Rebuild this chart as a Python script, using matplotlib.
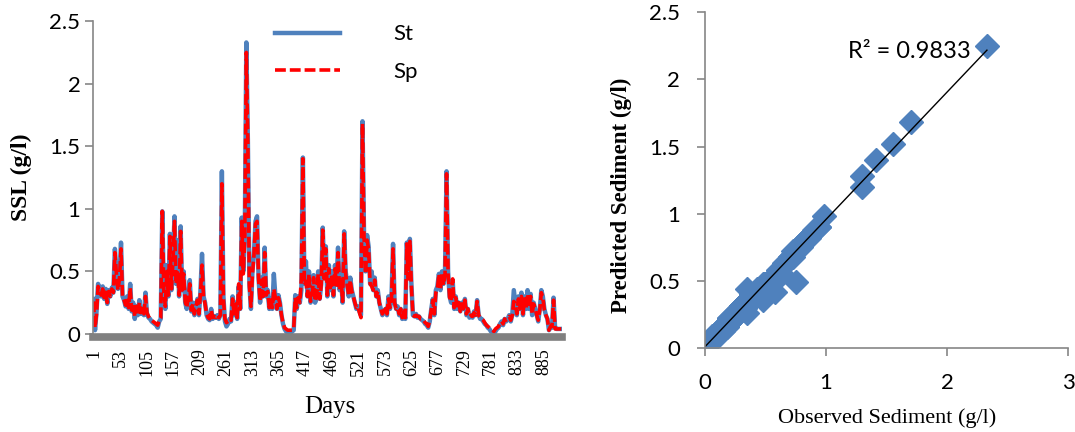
import numpy as np
import matplotlib
matplotlib.use("Agg")
import matplotlib.pyplot as plt

# observed (St) and predicted (Sp) sediment, read every 3rd day off the chart
day_step = 3
st = [0.28, 0.03, 0.18, 0.40, 0.36, 0.30, 0.38, 0.28, 0.36, 0.24,
      0.35, 0.30, 0.37, 0.33, 0.68, 0.50, 0.36, 0.45, 0.73, 0.30,
      0.27, 0.22, 0.30, 0.20, 0.40, 0.18, 0.25, 0.12, 0.22, 0.15,
      0.27, 0.16, 0.20, 0.15, 0.33, 0.16, 0.13, 0.12, 0.10, 0.09,
      0.08, 0.07, 0.05, 0.10, 0.12, 0.98, 0.35, 0.20, 0.55, 0.30,
      0.80, 0.35, 0.60, 0.94, 0.40, 0.75, 0.30, 0.86, 0.35, 0.50,
      0.25, 0.20, 0.30, 0.43, 0.18, 0.25, 0.15, 0.22, 0.28, 0.15,
      0.35, 0.64, 0.30, 0.25, 0.15, 0.12, 0.11, 0.20, 0.12, 0.14,
      0.13, 0.15, 0.12, 0.15, 1.30, 0.30, 0.10, 0.06, 0.08, 0.12,
      0.10, 0.30, 0.15, 0.25, 0.12, 0.38, 0.20, 0.93, 0.50, 0.80,
      2.33, 1.55, 0.40, 0.20, 0.50, 0.65, 0.90, 0.94, 0.45, 0.25,
      0.45, 0.30, 0.69, 0.30, 0.35, 0.20, 0.28, 0.20, 0.48, 0.30,
      0.20, 0.31, 0.25, 0.15, 0.08, 0.04, 0.02, 0.01, 0.01, 0.01,
      0.02, 0.03, 0.31, 0.20, 0.30, 0.25, 0.35, 1.41, 0.40, 0.58,
      0.30, 0.50, 0.25, 0.30, 0.47, 0.25, 0.30, 0.50, 0.28, 0.40,
      0.85, 0.45, 0.70, 0.30, 0.55, 0.35, 0.50, 0.30, 0.55, 0.40,
      0.69, 0.35, 0.45, 0.25, 0.82, 0.50, 0.40, 0.30, 0.45, 0.35,
      0.30, 0.25, 0.20, 0.22, 0.18, 0.15, 1.70, 0.80, 0.50, 0.79,
      0.70, 0.40, 0.50, 0.35, 0.45, 0.30, 0.35, 0.25, 0.20, 0.15,
      0.18, 0.20, 0.15, 0.30, 0.20, 0.30, 0.72, 0.25, 0.20, 0.22,
      0.15, 0.20, 0.12, 0.18, 0.12, 0.73, 0.45, 0.76, 0.40, 0.15,
      0.14, 0.16, 0.13, 0.14, 0.12, 0.11, 0.10, 0.08, 0.07, 0.05,
      0.10, 0.20, 0.28, 0.15, 0.35, 0.38, 0.48, 0.35, 0.50, 0.40,
      0.50, 1.30, 0.50, 0.30, 0.25, 0.43, 0.20, 0.30, 0.20, 0.25,
      0.18, 0.25, 0.20, 0.28, 0.15, 0.20, 0.13, 0.15, 0.13, 0.18,
      0.15, 0.27, 0.15, 0.12, 0.12, 0.10, 0.08, 0.07, 0.05, 0.04,
      0.02, 0.01, 0.00, 0.02, 0.04, 0.05, 0.08, 0.10, 0.07, 0.12,
      0.10, 0.12, 0.15, 0.10, 0.15, 0.35, 0.25, 0.15, 0.30, 0.20,
      0.33, 0.15, 0.30, 0.20, 0.35, 0.20, 0.32, 0.15, 0.25, 0.20,
      0.15, 0.10, 0.20, 0.35, 0.30, 0.20, 0.15, 0.12, 0.03, 0.05,
      0.05, 0.29, 0.05, 0.04, 0.04, 0.04, 0.04]
sp = [0.26, 0.05, 0.16, 0.38, 0.35, 0.31, 0.36, 0.29, 0.35, 0.25,
      0.34, 0.30, 0.36, 0.33, 0.65, 0.48, 0.35, 0.44, 0.68, 0.30,
      0.27, 0.23, 0.29, 0.21, 0.37, 0.19, 0.24, 0.14, 0.22, 0.16,
      0.25, 0.17, 0.20, 0.16, 0.30, 0.17, 0.14, 0.12, 0.11, 0.10,
      0.09, 0.08, 0.07, 0.11, 0.13, 0.98, 0.34, 0.22, 0.50, 0.31,
      0.78, 0.36, 0.58, 0.90, 0.40, 0.49, 0.31, 0.82, 0.35, 0.48,
      0.26, 0.21, 0.29, 0.40, 0.19, 0.24, 0.16, 0.22, 0.27, 0.16,
      0.33, 0.55, 0.30, 0.24, 0.16, 0.13, 0.12, 0.19, 0.13, 0.14,
      0.13, 0.15, 0.13, 0.15, 1.20, 0.28, 0.12, 0.09, 0.10, 0.12,
      0.11, 0.28, 0.16, 0.24, 0.13, 0.40, 0.20, 0.90, 0.48, 0.78,
      2.25, 1.52, 0.38, 0.22, 0.48, 0.63, 0.88, 0.90, 0.44, 0.26,
      0.43, 0.30, 0.65, 0.31, 0.34, 0.21, 0.27, 0.21, 0.36, 0.29,
      0.20, 0.29, 0.24, 0.15, 0.09, 0.05, 0.04, 0.03, 0.03, 0.03,
      0.03, 0.04, 0.29, 0.21, 0.29, 0.25, 0.44, 1.40, 0.39, 0.42,
      0.30, 0.48, 0.26, 0.30, 0.45, 0.26, 0.30, 0.48, 0.28, 0.39,
      0.83, 0.44, 0.68, 0.31, 0.52, 0.35, 0.48, 0.31, 0.52, 0.39,
      0.65, 0.35, 0.43, 0.26, 0.80, 0.48, 0.39, 0.31, 0.43, 0.34,
      0.30, 0.25, 0.21, 0.22, 0.17, 0.13, 1.68, 0.78, 0.48, 0.75,
      0.68, 0.40, 0.38, 0.35, 0.43, 0.30, 0.34, 0.25, 0.20, 0.16,
      0.18, 0.20, 0.16, 0.28, 0.21, 0.29, 0.68, 0.25, 0.20, 0.21,
      0.16, 0.20, 0.13, 0.18, 0.13, 0.72, 0.44, 0.74, 0.38, 0.15,
      0.14, 0.15, 0.14, 0.14, 0.12, 0.12, 0.11, 0.09, 0.08, 0.06,
      0.11, 0.19, 0.27, 0.16, 0.33, 0.36, 0.48, 0.36, 0.48, 0.39,
      0.48, 1.28, 0.48, 0.29, 0.26, 0.44, 0.21, 0.29, 0.21, 0.25,
      0.18, 0.24, 0.20, 0.27, 0.16, 0.20, 0.14, 0.15, 0.14, 0.17,
      0.15, 0.26, 0.15, 0.13, 0.12, 0.11, 0.09, 0.07, 0.06, 0.05,
      0.04, 0.03, 0.02, 0.04, 0.05, 0.06, 0.09, 0.10, 0.08, 0.12,
      0.11, 0.12, 0.14, 0.11, 0.15, 0.26, 0.24, 0.16, 0.28, 0.20,
      0.30, 0.16, 0.28, 0.20, 0.32, 0.21, 0.30, 0.16, 0.24, 0.20,
      0.15, 0.11, 0.19, 0.33, 0.29, 0.19, 0.15, 0.12, 0.03, 0.06,
      0.06, 0.27, 0.04, 0.04, 0.04, 0.04, 0.04]
day_ticks = [1, 53, 105, 157, 209, 261, 313, 365, 417, 469, 521, 573,
             625, 677, 729, 781, 833, 885]
r2_text = "R² = 0.9833"

days = 1 + day_step * np.arange(len(st))
blue = "#4F81BD"
grey = "#868686"
serif = "Liberation Serif"
sans = "Lato"

fig = plt.figure(figsize=(10.75, 4.32), dpi=100)

# ---- left: time series
ax = fig.add_axes([0.0865, 0.227, 0.436, 0.724])
# spine position first, it resets the ticks
ax.spines["bottom"].set_position(("outward", 2.5))
ax.plot(days, st, color=blue, lw=3.2, label="St")
ax.plot(days, sp, color="red", lw=2.6, dashes=(3, 1.1), label="Sp")
ax.set_xlim(0, days[-1] + 1)
ax.set_ylim(0, 2.5)
ax.set_yticks(np.arange(0, 2.51, 0.5))
ax.set_yticklabels(["0", "0.5", "1", "1.5", "2", "2.5"], family=sans, fontsize=16)
ax.set_xticks(day_ticks)
ax.set_xticklabels([str(d) for d in day_ticks], rotation=90, family=serif,
                   fontsize=13)
ax.tick_params(axis="x", length=0, pad=8)
ax.tick_params(axis="y", length=6, width=1.2, color=grey, pad=3)
for s in ("top", "right"):
    ax.spines[s].set_visible(False)
ax.spines["left"].set_color(grey)
ax.spines["left"].set_linewidth(1.2)
ax.spines["bottom"].set_color("#808080")
ax.spines["bottom"].set_linewidth(5.5)
ax.set_ylabel("SSL (g/l)", family=serif, fontsize=17, fontweight="bold")
ax.yaxis.set_label_coords(-0.13, 0.5)
ax.set_xlabel("Days", family=serif, fontsize=18)
ax.xaxis.set_label_coords(0.506, -0.2)
ax.legend(loc="upper left", bbox_to_anchor=(0.389, 0.99), frameon=False,
          prop={"family": sans, "size": 16}, handlelength=2.9,
          handletextpad=2.4, labelspacing=0.8, borderpad=0, borderaxespad=0)

# ---- right: scatter
bx = fig.add_axes([0.6558, 0.1944, 0.3377, 0.777])
bx.plot(st, sp, "D", color=blue, ms=12.5, mec=blue, lw=0)
coef = np.polyfit(st, sp, 1)
xs = np.array([min(st), max(st)])
bx.plot(xs, np.polyval(coef, xs), color="black", lw=1)
bx.text(1.18, 2.21, r2_text, family=sans, fontsize=17, va="center")
bx.set_xlim(0, 3)
bx.set_ylim(0, 2.5)
bx.set_xticks([0, 1, 2, 3])
bx.set_xticklabels(["0", "1", "2", "3"], family=sans, fontsize=16)
bx.set_yticks(np.arange(0, 2.51, 0.5))
bx.set_yticklabels(["0", "0.5", "1", "1.5", "2", "2.5"], family=sans, fontsize=16)
bx.tick_params(length=6, width=1.2, color=grey)
bx.tick_params(axis="x", pad=12)
bx.tick_params(axis="y", pad=12)
for s in ("top", "right"):
    bx.spines[s].set_visible(False)
for s in ("left", "bottom"):
    bx.spines[s].set_color(grey)
    bx.spines[s].set_linewidth(1.2)
bx.set_ylabel("Predicted Sediment (g/l)", family=serif, fontsize=16.5,
              fontweight="bold")
bx.yaxis.set_label_coords(-0.2, 0.455)
bx.set_xlabel("Observed Sediment (g/l)", family=serif, fontsize=16)
bx.xaxis.set_label_coords(0.501, -0.18)

fig.savefig("out.png", dpi=100)
